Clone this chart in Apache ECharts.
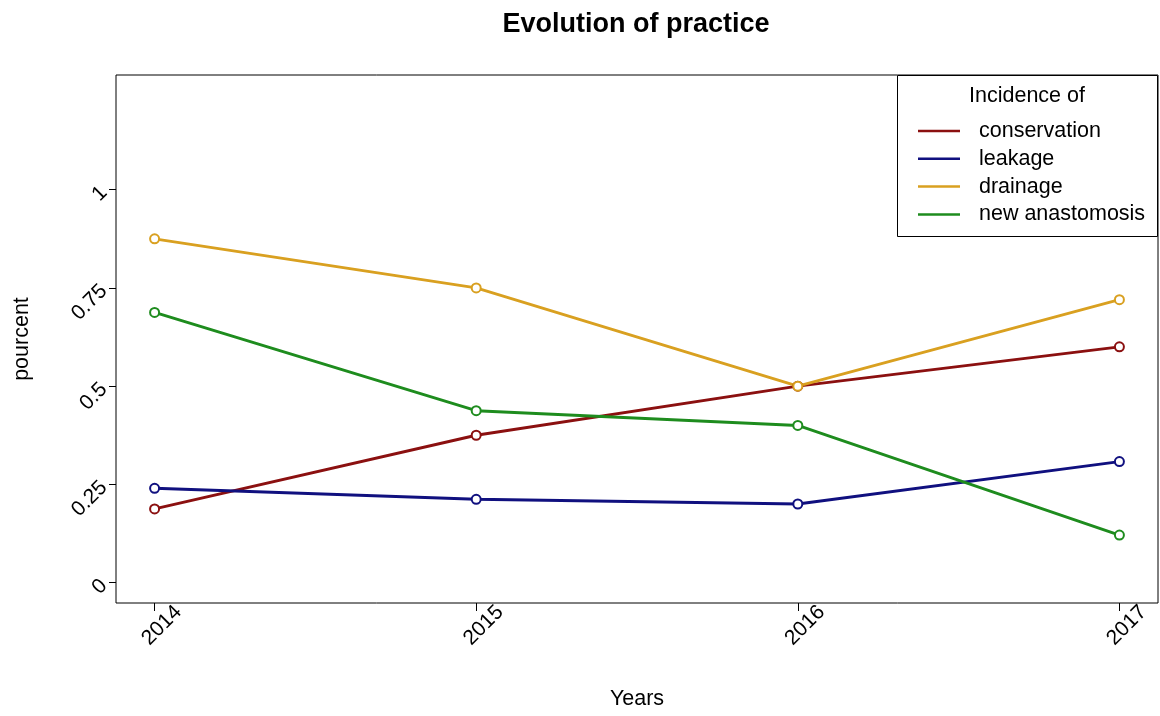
<!DOCTYPE html>
<html>
<head>
<meta charset="utf-8">
<script src="https://cdn.jsdelivr.net/npm/echarts@6/dist/echarts.min.js"></script>
<style>html,body{margin:0;padding:0;background:#fff;}#c{width:1160px;height:716px;}</style>
</head>
<body>
<div id="c"></div>
<script>
const years = [2014, 2015, 2016, 2017];
const conservation = [0.1875, 0.375, 0.5, 0.6];
const leakage = [0.24, 0.212, 0.2, 0.308];
const drainage = [0.875, 0.75, 0.5, 0.72];
const newAnastomosis = [0.6875, 0.4375, 0.4, 0.121];
const yTicks = [0, 0.25, 0.5, 0.75, 1];
const seriesNames = ['conservation', 'leakage', 'drainage', 'new anastomosis'];
const seriesColors = ['#8B1010', '#10107F', '#D9A020', '#1E8C1E'];
const seriesValues = [conservation, leakage, drainage, newAnastomosis];

const FONT = '"Liberation Sans", Arial, sans-serif';
const chart = echarts.init(document.getElementById('c'), null, {renderer: 'canvas'});

const series = seriesNames.map((name, i) => ({
  name: name,
  type: 'line',
  data: years.map((y, j) => [y, seriesValues[i][j]]),
  symbol: 'emptyCircle',
  symbolSize: 9,
  lineStyle: {width: 2.9, color: seriesColors[i]},
  itemStyle: {color: seriesColors[i], borderWidth: 2.2},
  emphasis: {disabled: true},
  animation: false,
  z: 2
}));

chart.setOption({
  animation: false,
  backgroundColor: '#fff',
  title: {
    text: 'Evolution of practice',
    left: 631, top: 6, textAlign: 'center',
    textStyle: {fontFamily: FONT, fontSize: 27, fontWeight: 'bold', color: '#000'}
  },
  grid: {
    left: 116, top: 75, width: 1042, height: 528,
    outerBoundsMode: 'none', containLabel: false,
    show: true, borderColor: '#000', borderWidth: 1, backgroundColor: 'transparent'
  },
  legend: {
    data: seriesNames.map((n, i) => ({name: n, icon: 'rect', itemStyle: {color: seriesColors[i]}})),
    orient: 'vertical',
    left: 918, top: 120, padding: 0,
    itemWidth: 42, itemHeight: 2.5,
    itemGap: 5.8,
    selectedMode: false,
    textStyle: {fontFamily: FONT, fontSize: 21.5, color: '#000', lineHeight: 21.5, padding: [0, 0, 0, 14]}
  },
  graphic: [
    {type: 'rect', shape: {x: 897.5, y: 75.5, width: 260, height: 161}, style: {fill: '#fff', stroke: '#000', lineWidth: 1}, z: 0, silent: true},
    {type: 'text', x: 1027, y: 96, style: {text: 'Incidence of', font: '21.5px ' + FONT, fill: '#000', align: 'center', verticalAlign: 'middle'}, z: 1, silent: true}
  ],
  xAxis: {
    type: 'value',
    min: 2013.88, max: 2017.12,
    name: 'Years', nameLocation: 'middle', nameGap: 85,
    nameTextStyle: {fontFamily: FONT, fontSize: 21.5, color: '#000'},
    axisLine: {show: false, onZero: false},
    splitLine: {show: false},
    axisTick: {show: true, customValues: years, length: 8, lineStyle: {color: '#000'}},
    axisLabel: {
      customValues: years, rotate: 45, margin: 15, align: 'center', verticalAlign: 'top',
      fontFamily: FONT, fontSize: 21, color: '#000',
      formatter: v => String(Math.round(v))
    }
  },
  yAxis: {
    type: 'value',
    min: -0.052, max: 1.292,
    name: 'pourcent', nameLocation: 'middle', nameGap: 83,
    nameTextStyle: {fontFamily: FONT, fontSize: 21.5, color: '#000'},
    axisLine: {show: false, onZero: false},
    splitLine: {show: false},
    axisTick: {show: true, customValues: yTicks, length: 7, lineStyle: {color: '#000'}},
    axisLabel: {
      customValues: yTicks, rotate: 45, margin: 12,
      fontFamily: FONT, fontSize: 21, color: '#000',
      formatter: v => String(v)
    }
  },
  series: series
});
</script>
</body>
</html>
